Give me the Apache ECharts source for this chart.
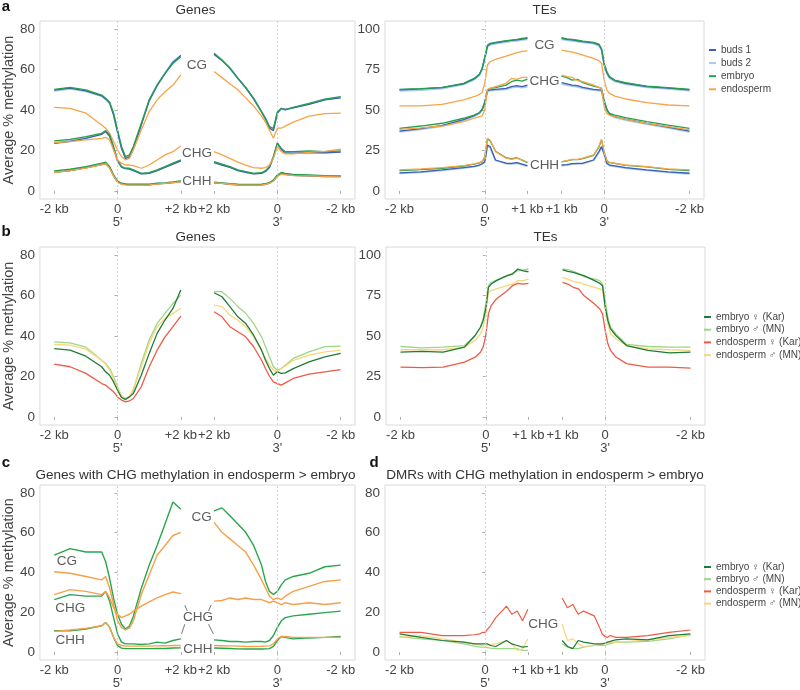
<!DOCTYPE html>
<html><head><meta charset="utf-8">
<script src="https://cdn.jsdelivr.net/npm/echarts@6/dist/echarts.min.js"></script>
<style>html,body{margin:0;padding:0;background:#fff}#c{width:800px;height:690px}</style>
</head><body><div id="c"></div><script>
// ---------- positions (kb) ----------
const geneKbL = [-2,-1.5,-1,-0.5,-0.375,-0.25,-0.125,0,0.125,0.25,0.375,0.5,0.75,1,1.25,1.5,1.75,2];
const geneKbR = [2,1.75,1.5,1.25,1,0.75,0.5,0.375,0.25,0.125,0,-0.125,-0.25,-0.5,-1,-1.5,-2];
const teKbL = [-2,-1.5,-1,-0.5,-0.25,-0.125,-0.0625,0,0.0625,0.125,0.25,0.5,0.625,0.75,0.875,1];
const teKbR = [1,0.875,0.75,0.625,0.5,0.25,0.125,0.0625,0,-0.0625,-0.125,-0.25,-0.5,-1,-1.5,-2];

// tick labels
const geneTickKbL = [-2,0,2], geneTickKbR = [2,0,-2];
const geneTickLabels = ['-2 kb',"0\n5'",'+2 kb','+2 kb',"0\n3'",'-2 kb'];
const teTickKbL = [-2,0,1], teTickKbR = [1,0,-2];
const teTickLabels = ['-2 kb',"0\n5'",'+1 kb','+1 kb',"0\n3'",'-2 kb'];
const geneYTicks = [0,20,40,60,80];
const teYTicks = [0,25,50,75,100];

// ---------- panel a : Genes (left half values, then right half values) ----------
const aGeneCG_buds1 = [49.8,50.8,49.5,47,45.5,43.5,37.5,29,21,16,16.8,21,32.5,44.5,52,58,63.5,67, 67.5,64.5,60.8,55.8,51,45.5,39,35.5,31,29.8,38.5,40.8,40.3,41,42.8,45,46];
const aGeneCG_buds2 = [49.5,50.5,49.2,46.8,45.2,43.2,37.8,29.5,21.5,16.5,17.2,21.5,33,44.8,52.2,58.3,64,66.8, 67.8,64.6,60.7,55.7,51,45.7,39,35.7,31.5,30.3,38.5,40.5,40.2,41.2,43,45.2,46.2];
const aGeneCG_embryo = [50.2,51.2,49.9,47.4,45.8,44,38.4,30,22,17,17.8,22,33.4,45,52.3,58.1,63,66.3, 68,64.7,60.6,55.6,51.2,45.8,39.2,35.9,31.8,30.9,39,40.8,40,41.3,43.3,45.4,46.6];
const aGeneCG_endo = [41.3,40.8,38.4,32.6,31,28.5,24.4,20.2,17,15.3,16.1,20.2,30.1,39.2,45,49,52.3,57.3, 59,56,53,50,46,42,37,34,30,26,31,31,32,34,37,38.2,38.5];
const aGeneCHG_buds1 = [23.5,24.5,26,28,29.5,27,21,14.8,11.8,11,10.8,10,8.4,8.7,10,11.6,13.2,14.8, 14,12.8,11.6,10,9.2,8.4,8.7,9.6,11.6,16.5,23.8,20.5,18.8,18.6,19,18.8,19.2];
const aGeneCHG_buds2 = [23.8,24.8,26.2,28.2,29.3,27.2,21.3,15,11.9,11.1,11,10.2,8.5,8.8,10.1,11.8,13.4,15, 14.2,13,11.8,10.2,9.3,8.5,8.8,9.8,11.8,16.8,23,20.6,19,19,19.3,19,19.4];
const aGeneCHG_embryo = [24.7,25.5,26.8,28.5,29.8,27.7,21.9,15.3,12,11.2,11.2,10.4,8.7,9,10.4,12,13.7,15.3, 14.5,13.3,12,10.4,9.5,8.7,9,10,12,17,23.5,21,19.4,19.4,19.8,19.4,19.8];
const aGeneCHG_endo = [23.9,24.4,25.2,26,26.5,25.2,20.2,15.3,13.7,12.8,12.8,12.5,11.2,12.8,15.3,17.8,19.4,22.2, 19.4,17.8,16.1,14.2,12.8,11.5,11.2,11.5,12.8,16.1,21.9,19.4,18.3,18.3,19.1,19.5,20.6];
const aGeneCHH_buds1 = [9.2,10,11.4,13,13.5,11.5,7.5,4.5,3.5,3.2,3,3,3,3,3.5,3.7,4.1,4.6, 4,3.7,3.3,3,2.9,2.9,3,3.3,3.8,5,7.4,8.6,8.2,7.7,7.4,7.1,7.1];
const aGeneCHH_buds2 = [9.4,10.2,11.6,13.2,13.7,11.7,7.6,4.6,3.6,3.3,3.1,3.1,3.1,3.1,3.6,3.8,4.2,4.7, 4.1,3.8,3.4,3.1,3,3,3.1,3.4,3.9,5.1,7.5,8.7,8.3,7.8,7.5,7.2,7.2];
const aGeneCHH_embryo = [9.9,10.7,12,13.7,14.2,12,7.9,4.9,3.8,3.5,3.3,3.3,3.3,3.3,3.8,4,4.4,4.9, 4.3,4,3.6,3.3,3.2,3.2,3.3,3.6,4.1,5.4,7.9,9.1,8.7,8.2,7.9,7.6,7.6];
const aGeneCHH_endo = [9.1,10,11.3,13,13.4,11.2,7.3,4.3,3.3,3,2.9,2.9,2.9,3,3.4,3.7,4.1,4.5, 4,3.7,3.3,3,2.9,2.9,3,3.2,3.7,4.8,7.2,8.3,8,7.6,7.4,7.2,7.3];

// ---------- panel a : TEs ----------
const aTeCG_buds1 = [62.5,63,63.8,66.2,69.2,72,75.5,82,89.5,90.8,91.5,92.5,93,93.3,93.8,94.3, 94.3,93.7,93.3,92.8,92.3,91.5,90.3,87.5,78,73,70.2,68.2,66.5,64.5,63.5,62.5];
const aTeCG_buds2 = [61.8,62.3,63.2,65.8,68.8,71.5,75,81.5,89,90.3,91,92,92.5,92.8,93.3,93.7, 93.7,93.2,92.8,92.3,91.8,91,89.8,87,77.5,72.5,69.7,67.7,66,64,63,62];
const aTeCG_embryo = [62.8,63.2,64,66.5,69.5,72.2,75.7,82.9,90.1,91.2,91.8,92.8,93.2,93.6,94.2,94.7, 94.7,94,93.6,93.2,92.6,91.8,90.7,88,78.8,73.7,70.6,68.5,66.9,64.8,63.8,62.8];
const aTeCG_endo = [52.5,52.5,53.5,56.2,58.2,59.7,60.7,66.5,77.8,79.8,81.3,83.3,84.4,85.4,86.2,86.6, 87,86.4,85.8,85,83.9,81.9,80.5,78.8,68.5,62.3,60.3,58.6,56.8,54.5,53.1,52.5];
const aTeCHG_buds1 = [37,38.5,40.5,44,46.5,48.3,50.5,55,62,62.5,62.8,63.4,64.5,65,64.5,65.4, 66.9,66.2,65.4,65,64,62.8,62.5,62.3,55,50.5,47.5,45.9,44.3,41.8,39.5,37];
const aTeCHG_buds2 = [36.5,38,40,43.5,46,47.8,50,54.5,61.5,62,62.3,62.8,63.8,64.3,63.8,64.5, 66,65.4,64.8,64.3,63.3,62.3,62,61.8,54.5,50,47,45.4,43.8,41.3,39,36.5];
const aTeCHG_embryo = [38.7,40.1,41.8,44.9,46.9,48.4,50,54.1,62.3,63.4,63.8,65.4,67.5,68.5,67.9,69.1, 71,70,68.5,68.9,66.9,64.8,64,63.4,56.2,50,47.9,46.9,45.3,42.8,40.7,38.7];
const aTeCHG_endo = [38,39,40.1,42.8,44.9,45.9,46.3,50,62.8,63.4,64.4,66.5,69.5,68.9,70.2,70.2, 71.6,70.6,70.2,68.1,67.5,65.4,64,63.4,52,47.9,46.9,45.9,44.2,41.8,39.7,37.7];
const aTeCHH_buds1 = [11.2,11.8,13,14.4,15.2,16,16.8,18.1,28.4,27.4,19.1,17.1,17,17.5,16.5,15.6, 16,16.2,16.8,17,17.1,19.1,24.3,27.4,23,17.1,16,15.5,14.4,13,11.8,10.9];
const aTeCHH_buds2 = [10.8,11.5,12.7,14.1,15,15.8,16.5,17.8,27.5,26.8,18.8,16.8,16.6,17.2,16.2,15.2, 15.6,15.9,16.5,16.7,16.8,18.8,23.8,26.8,22.5,16.8,15.7,15.2,14.1,12.7,11.5,10.6];
const aTeCHH_embryo = [12.5,13.2,14,15.3,16.5,17.3,18,21,32,31,24.5,20.5,19.8,20.5,19,17.5, 18,18.5,19.3,19.3,20,22,27,31.5,24,18.5,17.5,17,15.8,14.8,13.3,12.6];
const aTeCHH_endo = [13,13.6,14.4,15.6,16.7,17.5,18.1,21.2,32.5,31.5,24.3,20.2,19.5,20.2,19.1,17.7, 18.1,18.7,19.5,19.5,20.2,22.2,27.4,31.9,24.3,18.7,17.7,17.1,16,15,13.6,13];

// ---------- panel b ----------
const bGene_embF = [33.8,33,30,24.8,22.3,20.6,17.3,13.2,9.6,8.7,9.9,11.6,20.6,31.4,41.3,47.9,53.6,62.7, 61.4,59.4,54.5,49.5,46.2,40.4,33,28,23.9,20.6,22.3,21.5,21.8,23.9,27.2,29.7,31.4];
const bGene_embM = [37.1,36.6,34.5,28,26.4,23.9,19.8,14.9,9.9,8.3,9.9,13.2,26.4,38,46.2,51.2,56.1,60.2, 61.9,61.9,58.6,54.5,51.2,46.2,39.6,34.7,29.7,24.8,23.1,23.9,25.6,28.9,32.2,34.7,35];
const bGene_endF = [26.1,24.8,21.5,16.5,15.7,14,12.4,9.9,8.3,7.4,7.9,9.1,14.9,24.8,33,39.6,44.6,49.8, 52,49.5,44.6,42.1,39.6,34.7,28,23.9,20.1,17.3,16.5,15.7,16.8,19,21.1,22.3,23.4];
const bGene_endM = [35.8,35.5,33.5,28,26,23.1,19,14,10.7,9.1,10.2,14,24.8,36.3,44.6,48.7,51.2,53.6, 55.3,54.5,50.3,47.9,44.6,39.6,33,28.9,25.6,23.1,22.3,23.9,25.1,28,30.5,32.2,33];
const bTe_embF = [40,40.5,40,43.1,50.3,55.4,59.5,66.7,80.1,82.1,84.2,87.3,88.3,91.4,90.3,89.7, 90.8,89.9,89.3,88.3,87.3,84.2,82.5,81.1,67.8,59.5,54.4,50.3,44.1,41.1,39.6,40];
const bTe_embM = [43.5,42.7,43.1,44.1,50.3,55.4,60.6,69.8,81.1,83.2,84.6,87.3,88.7,90.3,90.8,91.4, 91.4,91,89.9,88.7,86.7,85.2,84.2,82.1,71.9,61.6,55.4,51.3,44.8,43.5,43.1,43.1];
const bTe_endF = [30.8,30.4,30.8,33.9,36.9,40,43.1,50.3,63.7,68.8,72.9,78,81.1,82.5,82.1,82.5, 83.2,82.1,80.1,79.1,75,69.8,66.7,63.7,53.4,45.2,41.1,37,32.9,30.8,30.8,30.2];
const bTe_endM = [41.5,41.5,41.5,43.1,47.2,51.3,55.4,63.7,77,78,79.1,81.1,82.1,84.2,84.2,85.2, 86.2,85.2,83.8,83.2,82.1,80.1,79.1,78.4,67.8,57.5,51.3,48.3,44.1,42.1,41.5,41.1];

// ---------- panel c ----------
const cCG_emb = [48.7,52,50.3,50.3,45.4,37,27,19,14,11.6,13,18,32,43.7,53.6,64.4,75.5,71.8, 71,72.5,68.5,64.4,60.2,53.6,43.7,35.5,30.5,28.9,30.5,33.8,36.3,38,39.6,42.9,43.7];
const cCG_endo = [40.4,39.6,38,36.3,38,32.2,23.9,15.7,12.4,11.1,12,15.7,28.9,38.8,48.7,53.6,58.6,60.2, 65.2,60.2,56.9,53.6,50.3,43.7,36.3,32.2,28.1,26.4,27.2,26.4,28.1,30.5,33,35.5,36.3];
const cCHG_emb = [26.4,28.9,28.1,28.1,30.5,25.6,17.3,9.1,5,4.1,4.1,4.1,3.8,4.1,5,4.5,5.8,6.6, 6.1,5.8,5.3,5.3,5,5.3,5.3,5,5.8,8.3,12.4,15.7,17.3,18.2,19,19.8,20.6];
const cCHG_endo = [28.9,31.4,30.5,28.9,30.5,27.2,22.3,19,17.3,18.2,19,20.6,23.1,25.2,27.2,28.9,30.2,29.4, 25.6,25.9,27.2,26.4,27.2,26.4,26.4,25.6,24.8,25.6,24.8,23.9,24.8,23.9,24.8,23.9,24.8];
const cCHH_emb = [10.7,10.7,11.6,13.2,14.9,12.4,7.4,3.3,2,1.7,1.7,1.7,1.7,1.7,1.8,1.8,2,2.1, 2,1.9,1.8,1.6,1.5,1.5,1.5,1.6,1.7,2.8,5.8,7.8,7.4,6.6,7.1,7.4,7.8];
const cCHH_endo = [10.4,11.1,11.9,13.2,14.9,12.4,7.4,4.1,3.3,3,3,3,3,3,3.1,3.2,3.3,3.3, 3.3,3.2,3.1,3,2.8,2.8,2.9,3,3.1,4.1,6.6,7.9,7.8,7.4,7.4,7.4,7.4];

// ---------- panel d ----------
const dTe_embF = [9.1,7.4,5.8,5,4.1,4.1,4.1,4.1,4.1,3.3,2.8,5.8,4.1,3.3,2.5,2.8, 5.8,2.8,1.7,5.8,5,4.1,4.1,4.1,4.5,5,5.4,6.1,6.6,6.1,8.3,9.1];
const dTe_embM = [7.8,6.6,5.8,4.1,3,2.5,2.5,2.5,2.2,2,1.7,1.7,1.7,1.7,0.8,0.8, 4.1,2.5,1.7,1.7,2.5,3.3,3.3,3.3,3.3,3.8,4.2,5,5,5.4,6.6,8.7];
const dTe_endF = [9.9,9.9,8.3,8.3,8.7,9.1,9.9,9.9,11.6,13.2,17.3,23.1,19,20.6,15.7,21.5, 27.2,22.3,23.9,19,20.6,18.2,12.4,9.1,7.8,7.4,8.3,7.4,7.4,8.3,9.9,11.1];
const dTe_endM = [7.4,8.3,6.6,5,4.1,3.5,3.3,2.8,3.3,3.8,4.1,5.8,4.1,0.8,1.5,6.6, 14,5.8,6.6,4.1,2.8,3.3,3.8,4.1,4.1,4.5,4.8,5,5.3,6.1,7.4,8.3];

// ---------- names ----------
const legendA = ['buds 1','buds 2','embryo','endosperm'];
const legendB = ['embryo \u2640 (Kar)','embryo \u2642 (MN)','endosperm \u2640 (Kar)','endosperm \u2642 (MN)'];

// ---------- styles ----------
const FONT = "'Liberation Sans', Arial, Helvetica, sans-serif";
const TXT = '#454545';
const colA = {'buds 1':'#3d5eb5','buds 2':'#a9cbe8','embryo':'#25a04b','endosperm':'#f7a446'};
const colB = {};
colB[legendB[0]]='#1e7b3c'; colB[legendB[1]]='#9fd685'; colB[legendB[2]]='#ef5a45'; colB[legendB[3]]='#f8d77a';
const colC = {'embryo':'#2aa54b','endosperm':'#f5a04a'};

const GENE_GAP = 1.05, TE_GAP = 0.8;
function geneX(side,kb){ return side==='L' ? kb : 2 + GENE_GAP + (2 - kb); }
function teX(side,kb){ return side==='L' ? kb : 1 + TE_GAP + (1 - kb); }
const geneXmin = -2 - 0.05*(8+GENE_GAP), geneXmax = 6 + GENE_GAP + 0.05*(8+GENE_GAP);
const teXmin = -2 - 0.05*(6+TE_GAP), teXmax = 4 + TE_GAP + 0.05*(6+TE_GAP);

const grids = [
  {left:36, top:21, width:319, height:178, kind:'gene', ymin:-4, ymax:84},
  {left:385, top:21, width:319, height:178, kind:'te', ymin:-5, ymax:105},
  {left:36, top:247, width:319, height:178, kind:'gene', ymin:-4, ymax:84},
  {left:386, top:247, width:319, height:178, kind:'te', ymin:-5, ymax:105},
  {left:36, top:485, width:319, height:178, kind:'gene', ymin:-4, ymax:84},
  {left:385, top:485, width:320, height:178, kind:'te', ymin:-4, ymax:84}
];

const series = [];
function addLine(g, name, vals, color, width){
  const kind = grids[g].kind;
  const pL = kind==='gene'?geneKbL:teKbL, pR = kind==='gene'?geneKbR:teKbR;
  const mx = kind==='gene'?geneX:teX;
  const n = pL.length;
  const left = pL.map((k,i)=>[mx('L',k), vals[i]]);
  const right = pR.map((k,i)=>[mx('R',k), vals[n+i]]);
  [left,right].forEach(d=>series.push({type:'line', name, xAxisIndex:g, yAxisIndex:g, data:d,
    symbol:'none', smooth:false, lineStyle:{color, width}, itemStyle:{color}, silent:true, animation:false}));
}
function addZeroLines(g){
  const mx = grids[g].kind==='gene'?geneX:teX;
  series.push({type:'line', xAxisIndex:g, yAxisIndex:g, data:[], silent:true, animation:false,
    markLine:{symbol:'none', silent:true, animation:false, label:{show:false},
      lineStyle:{type:[2,2], color:'#c9c9c9', width:0.8},
      data:[{xAxis:mx('L',0)},{xAxis:mx('R',0)}]}});
}
function addLabels(g, items){
  series.push({type:'scatter', xAxisIndex:g, yAxisIndex:g, silent:true, animation:false, symbolSize:1,
    itemStyle:{color:'rgba(0,0,0,0)'},
    data: items.map(it=>({name:it[0], value:[it[1],it[2]]})),
    label:{show:true, position:'inside', formatter:'{b}', color:'#333', fontSize:13.5, fontFamily:FONT}});
}

for (let g=0; g<6; g++) addZeroLines(g);

// panel a
const aGene = {CG:[aGeneCG_buds1,aGeneCG_buds2,aGeneCG_embryo,aGeneCG_endo],
               CHG:[aGeneCHG_buds1,aGeneCHG_buds2,aGeneCHG_embryo,aGeneCHG_endo],
               CHH:[aGeneCHH_buds1,aGeneCHH_buds2,aGeneCHH_embryo,aGeneCHH_endo]};
const aTe = {CG:[aTeCG_buds1,aTeCG_buds2,aTeCG_embryo,aTeCG_endo],
             CHG:[aTeCHG_buds1,aTeCHG_buds2,aTeCHG_embryo,aTeCHG_endo],
             CHH:[aTeCHH_buds1,aTeCHH_buds2,aTeCHH_embryo,aTeCHH_endo]};
const drawOrderA = [1,0,2,3];
[[0,aGene],[1,aTe]].forEach(([g,set])=>{
  ['CG','CHG','CHH'].forEach(ctx=>{
    drawOrderA.forEach(i=>addLine(g, legendA[i], set[ctx][i], colA[legendA[i]], i===1?1.8:1.3));
  });
});
addLabels(0, [['CG',2.51,62.2],['CHG',2.51,18.6],['CHH',2.51,4.9]]);
addLabels(1, [['CG',1.4,90.1],['CHG',1.4,67.5],['CHH',1.4,16]]);

// panel b
const bGene = [bGene_embF,bGene_embM,bGene_endF,bGene_endM];
const bTe = [bTe_embF,bTe_embM,bTe_endF,bTe_endM];
const drawOrderB = [1,3,2,0];
drawOrderB.forEach(i=>addLine(2, legendB[i], bGene[i], colB[legendB[i]], 1.3));
drawOrderB.forEach(i=>addLine(3, legendB[i], bTe[i], colB[legendB[i]], 1.3));

// panel c
[[cCG_emb,cCG_endo],[cCHG_emb,cCHG_endo],[cCHH_emb,cCHH_endo]].forEach(([e,n])=>{
  addLine(4, 'embryo', e, colC.embryo, 1.4);
  addLine(4, 'endosperm', n, colC.endosperm, 1.4);
});
addLabels(4, [['CG',2.66,67.7],['CG',-1.6,45.7],['CHG',-1.495,21.8],['CHH',-1.495,5.8],['CHG',2.54,17.7],['CHH',2.54,1.3]]);
const cLeaders = [[[2.125,23.6],[2.206,20.6]],[[2.955,23.6],[2.874,20.6]],[[2.125,14],[2.02,9.1]],[[2.874,14],[3.03,9.1]]];
cLeaders.forEach(seg=>series.push({type:'line', xAxisIndex:4, yAxisIndex:4, data:seg, symbol:'none', silent:true,
  animation:false, lineStyle:{color:'#555', width:0.8}}));

// panel d
const dTe = [dTe_embF,dTe_embM,dTe_endF,dTe_endM];
drawOrderB.forEach(i=>addLine(5, legendB[i], dTe[i], colB[legendB[i]], 1.2));
addLabels(5, [['CHG',1.36,14]]);

// axes
function nearestLabel(v, pos, labels){
  let bi=0, bd=1e9; pos.forEach((p,i)=>{const d=Math.abs(p-v); if(d<bd){bd=d;bi=i;}}); return labels[bi];
}
const xAxes = grids.map((gr,g)=>{
  const isGene = gr.kind==='gene';
  const mx = isGene?geneX:teX;
  const pos = isGene ? geneTickKbL.map(k=>mx('L',k)).concat(geneTickKbR.map(k=>mx('R',k)))
                     : teTickKbL.map(k=>mx('L',k)).concat(teTickKbR.map(k=>mx('R',k)));
  const labels = isGene?geneTickLabels:teTickLabels;
  return {type:'value', gridIndex:g, min:isGene?geneXmin:teXmin, max:isGene?geneXmax:teXmax,
    axisLine:{show:false}, splitLine:{show:false},
    axisTick:{show:true, customValues:pos, length:3, lineStyle:{color:'#999', width:0.8}},
    axisLabel:{show:true, customValues:pos, hideOverlap:false, margin:4, color:TXT, fontSize:13, fontFamily:FONT,
      lineHeight:13, formatter:(v)=>nearestLabel(v,pos,labels)}};
});
const yAxes = grids.map((gr,g)=>{
  const vals = gr.ymax>100 ? teYTicks : geneYTicks;
  const o = {type:'value', gridIndex:g, min:gr.ymin, max:gr.ymax,
    axisLine:{show:false}, splitLine:{show:false},
    axisTick:{show:true, customValues:vals, length:3, lineStyle:{color:'#999', width:0.8}},
    axisLabel:{customValues:vals, margin:5, color:TXT, fontSize:13.5, fontFamily:FONT}};
  if (g%2===0){
    o.name = 'Average % methylation'; o.nameLocation='middle'; o.nameGap=21;
    o.nameTextStyle = {color:TXT, fontSize:14.5, fontFamily:FONT};
  }
  return o;
});

function txt(text, x, y, size, weight, align){
  return {type:'text', x, y, silent:true, style:{text, fill: weight==='bold'?'#111':'#333', font:(weight||'normal')+' '+size+'px '+FONT,
    align: align||'center', verticalAlign:'middle'}};
}

const legStyle = {fontSize:10, color:TXT, fontFamily:FONT, lineHeight:12};
const chart = echarts.init(document.getElementById('c'), null, {renderer:'canvas'});
chart.setOption({
  animation:false,
  backgroundColor:'#fff',
  grid: grids.map(g=>({left:g.left, top:g.top, width:g.width, height:g.height, show:true, borderColor:'#dadada', borderWidth:1, backgroundColor:'transparent'})),
  xAxis:xAxes, yAxis:yAxes, series,
  legend:[
    {data:legendA, orient:'vertical', left:704, top:39, icon:'rect', itemWidth:7, itemHeight:2, itemGap:1.1,
      textStyle:legStyle, selectedMode:false},
    {data:legendB, orient:'vertical', left:699, top:306, icon:'rect', itemWidth:7, itemHeight:2, itemGap:0.7,
      textStyle:legStyle, selectedMode:false},
    {data:legendB, orient:'vertical', left:699, top:556, icon:'rect', itemWidth:7, itemHeight:2, itemGap:0.2,
      textStyle:legStyle, selectedMode:false}
  ],
  graphic:[
    txt('a',6,7,15,'bold'), txt('b',6,232,15,'bold'), txt('c',6,463,15,'bold'), txt('d',374,463,15,'bold'),
    txt('Genes',195.5,10,13.5), txt('TEs',544.5,10,13.5),
    txt('Genes',195.5,237,13.5), txt('TEs',545.5,237,13.5),
    txt('Genes with CHG methylation in endosperm > embryo',195.5,475,13.5),
    txt('DMRs with CHG methylation in endosperm > embryo',545,475,13.5)
  ]
});
</script></body></html>
